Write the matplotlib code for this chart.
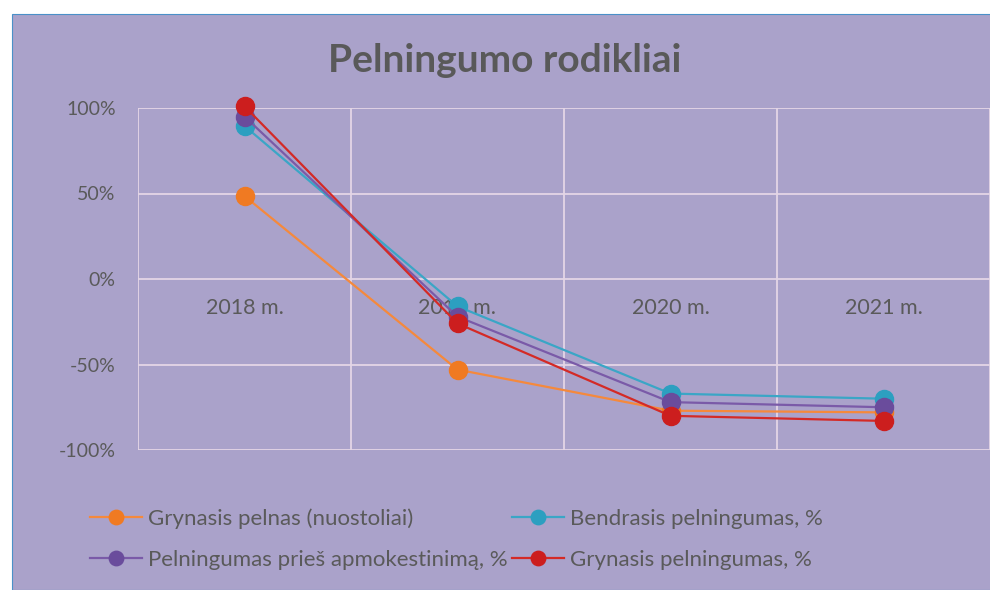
import numpy as np
import matplotlib
matplotlib.use("Agg")
import matplotlib.pyplot as plt
from matplotlib.patches import Rectangle
from matplotlib.ticker import FuncFormatter

# data
years = ["2018 m.", "2019 m.", "2020 m.", "2021 m."]
grynasis_pelnas = [48.5, -53, -77, -78]
bendrasis_pelningumas = [89.5, -16, -67, -70]
pelningumas_pries_apm = [95, -22, -72, -75]
grynasis_pelningumas = [101, -26, -80, -83]

labels = ["Grynasis pelnas (nuostoliai)", "Bendrasis pelningumas, %",
          "Pelningumas prieš apmokestinimą, %", "Grynasis pelningumas, %"]
line_cols = ["#f5893c", "#3aa6c6", "#7a5aa8", "#d42a26"]
mark_cols = ["#f07a22", "#2c9fc0", "#6a4c9c", "#cc1e1e"]

bg = "#aaa2ca"
grid_col = "#e4d6e6"
txt_col = "#5a5a5a"

plt.rcParams['font.family'] = ['Lato', 'DejaVu Sans']

fig = plt.figure(figsize=(9.9, 5.9), dpi=100, facecolor="white")
# panel of the chart area (the picture is a scan, white strip on top)
fig.patches.append(Rectangle((12 / 990, 0), 1, (590 - 14) / 590, transform=fig.transFigure,
                             facecolor=bg, edgecolor="#4a90c8", linewidth=0.8, zorder=-5))

ax = fig.add_axes([138 / 990, 1 - 450 / 590, (990 - 138) / 990, (450 - 108) / 590])
ax.set_facecolor("none")

x = np.arange(len(years))
series = [grynasis_pelnas, bendrasis_pelningumas, pelningumas_pries_apm, grynasis_pelningumas]
handles = []
for vals, lc, mc, lab in zip(series, line_cols, mark_cols, labels):
    h, = ax.plot(x, vals, color=lc, linewidth=1.6, marker="o", markersize=13,
                 markerfacecolor=mc, markeredgecolor=mc, label=lab, zorder=3, clip_on=False)
    handles.append(h)

ax.set_ylim(-100, 100)
ax.set_xlim(-0.5, 3.5 - 15 / 217)
ax.set_yticks([-100, -50, 0, 50, 100])
ax.yaxis.set_major_formatter(FuncFormatter(lambda v, p: "{:.0f}%".format(v)))
ax.tick_params(axis="y", length=0, pad=16, labelsize=14, labelcolor=txt_col)

# category gridlines sit between the categories
ax.set_xticks(np.arange(-0.5, 4, 1.0), minor=False)
ax.set_xticklabels([])
ax.tick_params(axis="x", length=0)
ax.grid(True, color=grid_col, linewidth=1.3, zorder=1)
for s in ax.spines.values():
    s.set_visible(False)

# category labels just below the zero line
for xi, yr in zip(x, years):
    ax.text(xi, -17, yr, ha="center", va="center", fontsize=15.5, color=txt_col, zorder=2)

fig.text(505 / 990, 1 - 60 / 590, "Pelningumo rodikliai", ha="center", va="center",
         fontsize=28, fontweight="bold", color="#595959")

order = [0, 2, 1, 3]
leg = fig.legend([handles[i] for i in order], [labels[i] for i in order], ncol=2,
                 loc="upper left", bbox_to_anchor=(70 / 990, 1 - 488 / 590), frameon=False,
                 fontsize=16, handlelength=2.35, handletextpad=0.25, columnspacing=0.2,
                 labelspacing=0.95, markerscale=0.8)
for t in leg.get_texts():
    t.set_color(txt_col)

fig.savefig("out.png", dpi=100, facecolor="white")
